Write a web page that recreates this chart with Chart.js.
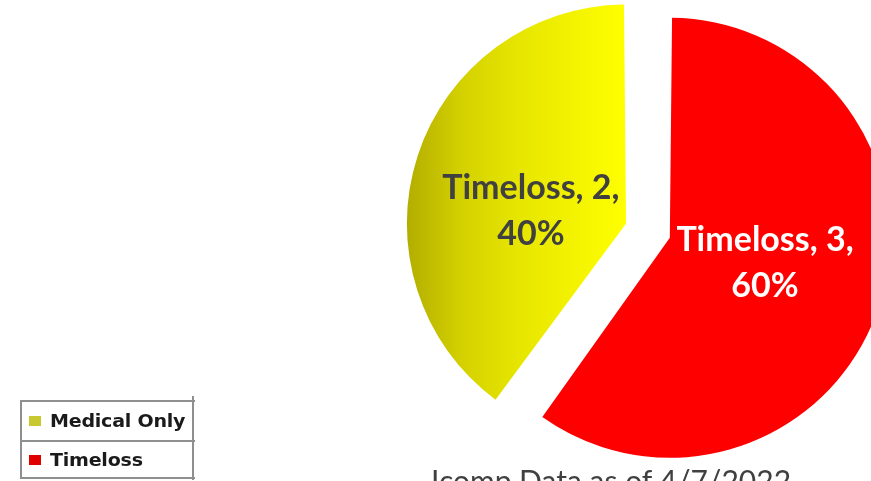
<!DOCTYPE html>
<html>
<head>
<meta charset="utf-8">
<script src="https://cdn.jsdelivr.net/npm/chart.js@4/dist/chart.umd.min.js"></script>
<style>
  html, body { margin: 0; padding: 0; width: 871px; height: 481px; overflow: hidden; background: #fff; }
  #wrap { position: absolute; left: 0; top: 0; width: 871px; height: 481px; }
  #title { position: absolute; left: 411px; width: 400px; top: 465px; text-align: center;
           font-family: Lato, sans-serif; font-size: 30px; line-height: 30px; color: #404040; white-space: nowrap; }
  #legend { position: absolute; left: 20px; top: 400px; width: 173px; border: 2px solid #8f8f8f; border-right: none; }
  #legend .row { height: 38px; display: flex; align-items: center; border-bottom: 2px solid #8f8f8f; }
  #legend .row:last-child { border-bottom: none; height: 35px; }
  #legend .txt { display: inline-block; font-family: "DejaVu Sans", sans-serif; font-weight: bold; font-size: 17px;
                 letter-spacing: -0.2px; color: #1a1a1a; transform: scaleX(1.12); transform-origin: left center; }
  #legend .sw { width: 12px; height: 10px; margin-left: 7px; margin-right: 9px; }
  #rline { position: absolute; left: 192px; top: 396px; width: 2px; height: 84px; background: #8f8f8f; }
</style>
</head>
<body>
<div id="wrap"><canvas id="c" width="871" height="481"></canvas></div>
<div id="legend"></div>
<div id="rline"></div>
<div id="title"></div>
<script>
// ---- data ----
const categories = ['Medical Only', 'Timeloss'];
const values = [2, 3];
const labelNames = ['Timeloss', 'Timeloss'];   // text as shown on the slices
const titleText = 'Icomp Data as of 4/7/2022';

// ---- styles ----
const sliceColors = ['#f0f000', '#ff0000'];
const legendColors = ['#c8c830', '#e00000'];
const labelColors = ['#404040', '#ffffff'];
const labelNudgeY = [18, -6];

document.getElementById('title').textContent = titleText;
const leg = document.getElementById('legend');
categories.forEach((c, i) => {
  const row = document.createElement('div');
  row.className = 'row';
  const sw = document.createElement('span');
  sw.className = 'sw';
  sw.style.background = legendColors[i];
  row.appendChild(sw);
  const t = document.createElement('span');
  t.className = 'txt';
  t.textContent = c;
  row.appendChild(t);
  leg.appendChild(row);
});

const RADIUS = 206;

function yellowGradient(ctx) {
  const chart = ctx.chart;
  const a = chart.chartArea;
  if (!a) return sliceColors[0];
  const cx = (a.left + a.right) / 2;
  const g = chart.ctx.createLinearGradient(cx - RADIUS - 13, 0, cx, 0);
  g.addColorStop(0, '#b3ad00');
  g.addColorStop(0.25, '#d4d100');
  g.addColorStop(0.5, '#e6e500');
  g.addColorStop(1, '#ffff00');
  return g;
}

const labelPlugin = {
  id: 'sliceLabels',
  afterDatasetsDraw(chart) {
    const meta = chart.getDatasetMeta(0);
    const total = values.reduce((s, v) => s + v, 0);
    const ctx = chart.ctx;
    ctx.save();
    ctx.font = 'bold 34px Lato, sans-serif';
    ctx.textAlign = 'center';
    ctx.textBaseline = 'middle';
    meta.data.forEach((arc, i) => {
      const p = arc.getProps(['x', 'y', 'startAngle', 'endAngle', 'outerRadius'], true);
      const mid = (p.startAngle + p.endAngle) / 2;
      const off = (arc.options.offset || 0) / 4;
      const cx = p.x + Math.cos(mid) * off;
      const cy = p.y + Math.sin(mid) * off;
      const d = 0.455 * 220;
      const x = cx + Math.cos(mid) * d;
      const y = cy + Math.sin(mid) * d + labelNudgeY[i];
      const pct = Math.round(values[i] / total * 100);
      ctx.fillStyle = labelColors[i];
      ctx.fillText(labelNames[i] + ', ' + values[i] + ',', x, y - 23);
      ctx.fillText(pct + '%', x, y + 23);
    });
    ctx.restore();
  }
};

new Chart(document.getElementById('c'), {
  type: 'pie',
  data: {
    labels: categories,
    datasets: [{
      data: values,
      backgroundColor: (ctx) => ctx.dataIndex === 0 ? yellowGradient(ctx) : sliceColors[1],
      borderWidth: 0,
      offset: [128, 56],
      hoverOffset: 0
    }]
  },
  options: {
    responsive: false,
    animation: false,
    rotation: 216,
    radius: RADIUS,
    layout: { padding: { left: 442, right: 0, top: 0, bottom: 14 } },
    plugins: { legend: { display: false }, title: { display: false }, tooltip: { enabled: false } },
    events: []
  },
  plugins: [labelPlugin]
});
</script>
</body>
</html>
